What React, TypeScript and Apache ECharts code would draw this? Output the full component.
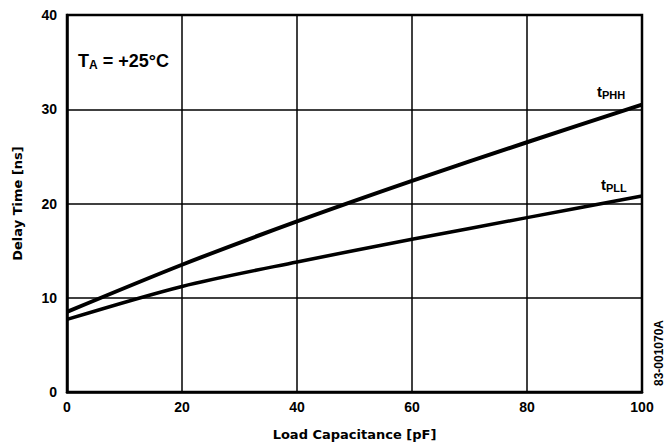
import React, { useEffect, useRef } from "react";
import * as echarts from "echarts";

const xValues = [0, 20, 40, 60, 80, 100];
const tPHH = [8.5, 13.5, 18.1, 22.4, 26.5, 30.5];
const tPLL = [7.7, 11.2, 13.8, 16.2, 18.5, 20.8];
const xTicks = [0, 20, 40, 60, 80, 100];
const yTicks = [0, 10, 20, 30, 40];

const FONT = "Liberation Sans, Arial, sans-serif";
const WIDE = "DejaVu Sans, sans-serif";

export default function App() {
  const ref = useRef<HTMLDivElement>(null);
  useEffect(() => {
    if (!ref.current) return;
    const chart = echarts.init(ref.current, undefined, { renderer: "svg" });
    const rich = {
      t: { fontFamily: FONT, fontWeight: "bold", fontSize: 15, color: "#000" },
      s: { fontFamily: FONT, fontWeight: "bold", fontSize: 11, color: "#000", padding: [7, 0, 0, 0] },
    };
    chart.setOption({
      animation: false,
      backgroundColor: "#fff",
      grid: {
        left: 67, right: 23, top: 15, bottom: 54,
        containLabel: false,
        outerBoundsMode: "none",
      },
      xAxis: {
        type: "value",
        min: 0,
        max: 100,
        interval: 20,
        name: "Load Capacitance [pF]",
        nameLocation: "middle",
        nameGap: 36,
        nameTextStyle: { fontFamily: WIDE, fontWeight: "bold", fontSize: 13, color: "#000" },
        axisLine: { show: true, lineStyle: { color: "#000", width: 2.5 } },
        axisTick: { show: false },
        axisLabel: {
          fontFamily: FONT, fontWeight: "bold", fontSize: 14, color: "#000", margin: 8,
          formatter: (v: number) => (xTicks.includes(v) ? String(v) : ""),
        },
        splitLine: { show: true, lineStyle: { color: "#000", width: 1.5 } },
      },
      yAxis: {
        type: "value",
        min: 0,
        max: 40,
        interval: 10,
        name: "Delay Time [ns]",
        nameLocation: "middle",
        nameGap: 43,
        nameTextStyle: { fontFamily: WIDE, fontWeight: "bold", fontSize: 13, color: "#000" },
        axisLine: { show: true, lineStyle: { color: "#000", width: 2.5 } },
        axisTick: { show: false },
        axisLabel: {
          fontFamily: FONT, fontWeight: "bold", fontSize: 14, color: "#000", margin: 10,
          formatter: (v: number) => (yTicks.includes(v) ? String(v) : ""),
        },
        splitLine: { show: true, lineStyle: { color: "#000", width: 1.5 } },
      },
      series: [
        {
          type: "line",
          name: "tPHH",
          data: xValues.map((x, i) => [x, tPHH[i]]),
          smooth: 0.3,
          symbol: "none",
          lineStyle: { color: "#000", width: 4 },
        },
        {
          type: "line",
          name: "tPLL",
          data: xValues.map((x, i) => [x, tPLL[i]]),
          smooth: 0.3,
          symbol: "none",
          lineStyle: { color: "#000", width: 3.5 },
        },
      ],
      graphic: [
        {
          type: "rect",
          shape: { x: 67, y: 15, width: 575, height: 377 },
          style: { fill: "none", stroke: "#000", lineWidth: 2.5 },
          silent: true,
        },
        {
          type: "text",
          x: 78,
          y: 51,
          style: {
            text: "{t|T}{s|A}{t| = +25°C}",
            rich: {
              t: { fontFamily: FONT, fontWeight: "bold", fontSize: 18, color: "#000" },
              s: { fontFamily: FONT, fontWeight: "bold", fontSize: 12, color: "#000", padding: [8, 0, 0, 0] },
            },
          },
        },
        {
          type: "text",
          x: 597,
          y: 82,
          style: { text: "{t|t}{s|PHH}", rich },
        },
        {
          type: "text",
          x: 601,
          y: 175,
          style: { text: "{t|t}{s|PLL}", rich },
        },
        {
          type: "text",
          x: 659,
          y: 353,
          rotation: Math.PI / 2,
          style: {
            text: "83-001070A",
            fontFamily: FONT,
            fontWeight: "bold",
            fontSize: 12,
            fill: "#000",
            align: "center",
            verticalAlign: "middle",
          },
        },
      ],
    });
    return () => chart.dispose();
  }, []);
  return (
    <div
      ref={ref}
      style={{ position: "absolute", left: 0, top: 0, width: 665, height: 446 }}
    />
  );
}
